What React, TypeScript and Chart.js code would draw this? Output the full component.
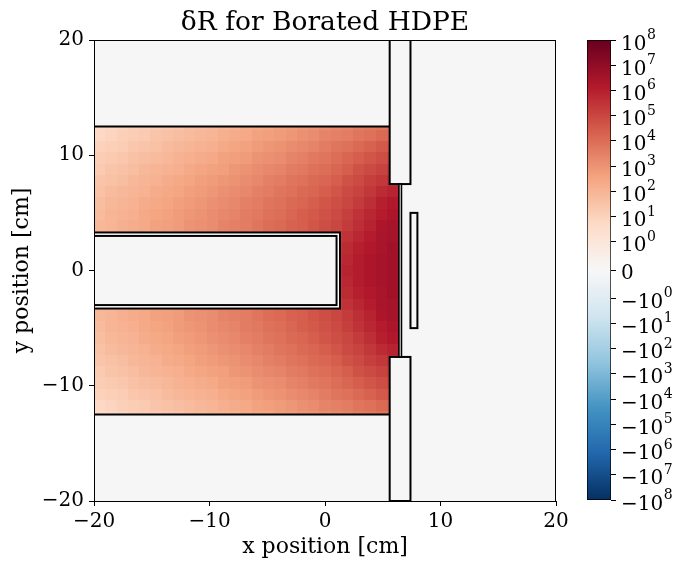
import React, { useEffect, useRef } from "react";
import { Chart, registerables } from "chart.js";

Chart.register(...registerables);

// ---------------- data ----------------
const N = null;
// mesh: 41 x 41 bins from -20 to 20 cm
const MESH_MIN = -20;
const MESH_MAX = 20;
const MESH_BINS = 41;
const FIRST_ROW = 7; // mesh row index of ROW_J07 (y ≈ -12.7 cm)
// values are log10(δR), columns i = 0..27 (x ≈ -19.5 ... 6.8 cm)
const ROW_J07 = [0.7, 0.8, 0.9, 1.1, 1.2, 1.3, 1.4, 1.5, 1.7, 1.8, 1.9, 2.0, 2.1, 2.3, 2.4, 2.5, 2.7, 2.8, 2.9, 3.0, 3.2, 3.3, 3.4, 3.6, 3.7, 3.8, 3.9, 4.0];
const ROW_J08 = [0.8, 0.9, 1.1, 1.2, 1.3, 1.5, 1.6, 1.7, 1.8, 1.9, 2.0, 2.2, 2.3, 2.4, 2.6, 2.7, 2.8, 2.9, 3.1, 3.2, 3.4, 3.5, 3.6, 3.8, 3.9, 4.1, 4.2, 4.3];
const ROW_J09 = [1.0, 1.1, 1.2, 1.4, 1.5, 1.6, 1.8, 1.9, 2.0, 2.1, 2.2, 2.4, 2.5, 2.6, 2.8, 2.9, 3.0, 3.2, 3.3, 3.4, 3.6, 3.8, 3.9, 4.1, 4.3, 4.5, 4.6, 4.6];
const ROW_J10 = [1.2, 1.3, 1.4, 1.6, 1.7, 1.8, 1.9, 2.1, 2.2, 2.3, 2.4, 2.6, 2.7, 2.8, 3.0, 3.1, 3.2, 3.4, 3.5, 3.7, 3.8, 4.0, 4.2, 4.4, 4.6, 4.8, 5.0, 5.0];
const ROW_J11 = [1.3, 1.5, 1.6, 1.7, 1.9, 2.0, 2.1, 2.2, 2.4, 2.5, 2.6, 2.7, 2.9, 3.0, 3.2, 3.3, 3.4, 3.6, 3.7, 3.9, 4.0, 4.2, 4.4, 4.7, 4.9, 5.1, 5.3, 5.4];
const ROW_J12 = [1.5, 1.6, 1.7, 1.9, 2.0, 2.1, 2.3, 2.4, 2.5, 2.7, 2.8, 2.9, 3.0, 3.2, 3.3, 3.5, 3.6, 3.8, 3.9, 4.1, 4.2, 4.4, 4.7, 4.9, 5.2, 5.4, 5.6, 5.7];
const ROW_J13 = [1.6, 1.8, 1.9, 2.0, 2.1, 2.3, 2.4, 2.5, 2.7, 2.8, 2.9, 3.1, 3.2, 3.3, 3.5, 3.6, 3.8, 3.9, 4.1, 4.2, 4.4, 4.6, 4.9, 5.1, 5.4, 5.7, 5.9, 6.0];
const ROW_J14 = [1.7, 1.9, 2.0, 2.1, 2.3, 2.4, 2.5, 2.7, 2.8, 2.9, 3.1, 3.2, 3.3, 3.5, 3.6, 3.8, 3.9, 4.1, 4.2, 4.4, 4.6, 4.8, 5.0, 5.3, 5.6, 6.0, 6.2, 6.2];
const ROW_J15 = [1.8, 2.0, 2.1, 2.2, 2.4, 2.5, 2.6, 2.8, 2.9, 3.0, 3.2, 3.3, 3.4, 3.6, 3.7, 3.9, 4.0, 4.2, 4.4, 4.5, 4.7, 4.9, 5.2, 5.5, 5.8, 6.1, 6.3, 6.4];
const ROW_J16 = [1.9, 2.0, 2.2, 2.3, 2.4, 2.6, 2.7, 2.8, 3.0, 3.1, 3.2, 3.4, 3.5, 3.6, 3.8, 4.0, 4.1, 4.3, 4.4, 4.6, 4.8, 5.0, 5.3, 5.6, 5.9, 6.3, 6.5, 6.6];
const ROW_J17 = [1.9, 2.1, 2.2, 2.3, 2.5, 2.6, 2.7, 2.9, 3.0, 3.1, 3.3, 3.4, 3.5, 3.7, 3.8, 4.0, 4.2, 4.3, 4.5, 4.7, 4.9, 5.2, 5.5, 5.8, 6.1, 6.4, 6.5, 6.6];
const ROW_J18 = [N, N, N, N, N, N, N, N, N, N, N, N, N, N, N, N, N, N, N, N, N, 5.4, 5.7, 6.0, 6.2, 6.4, 6.6, 6.6];
const ROW_J19 = [N, N, N, N, N, N, N, N, N, N, N, N, N, N, N, N, N, N, N, N, N, 5.5, 5.8, 6.1, 6.3, 6.5, 6.6, 6.6];
const ROW_J20 = [N, N, N, N, N, N, N, N, N, N, N, N, N, N, N, N, N, N, N, N, N, 5.6, 5.9, 6.1, 6.3, 6.5, 6.6, 6.7];
const ROW_J21 = [N, N, N, N, N, N, N, N, N, N, N, N, N, N, N, N, N, N, N, N, N, 5.5, 5.8, 6.1, 6.3, 6.5, 6.6, 6.6];
const ROW_J22 = [N, N, N, N, N, N, N, N, N, N, N, N, N, N, N, N, N, N, N, N, N, 5.4, 5.7, 6.0, 6.2, 6.4, 6.6, 6.6];
const ROW_J23 = [1.9, 2.1, 2.2, 2.3, 2.5, 2.6, 2.7, 2.9, 3.0, 3.1, 3.3, 3.4, 3.5, 3.7, 3.8, 4.0, 4.2, 4.3, 4.5, 4.7, 4.9, 5.2, 5.5, 5.8, 6.1, 6.4, 6.5, 6.6];
const ROW_J24 = [1.9, 2.0, 2.2, 2.3, 2.4, 2.6, 2.7, 2.8, 3.0, 3.1, 3.2, 3.4, 3.5, 3.6, 3.8, 4.0, 4.1, 4.3, 4.4, 4.6, 4.8, 5.0, 5.3, 5.6, 5.9, 6.3, 6.5, 6.6];
const ROW_J25 = [1.8, 2.0, 2.1, 2.2, 2.4, 2.5, 2.6, 2.8, 2.9, 3.0, 3.2, 3.3, 3.4, 3.6, 3.7, 3.9, 4.0, 4.2, 4.4, 4.5, 4.7, 4.9, 5.2, 5.5, 5.8, 6.1, 6.3, 6.4];
const ROW_J26 = [1.7, 1.9, 2.0, 2.1, 2.3, 2.4, 2.5, 2.7, 2.8, 2.9, 3.1, 3.2, 3.3, 3.5, 3.6, 3.8, 3.9, 4.1, 4.2, 4.4, 4.6, 4.8, 5.0, 5.3, 5.6, 6.0, 6.2, 6.2];
const ROW_J27 = [1.6, 1.8, 1.9, 2.0, 2.1, 2.3, 2.4, 2.5, 2.7, 2.8, 2.9, 3.1, 3.2, 3.3, 3.5, 3.6, 3.8, 3.9, 4.1, 4.2, 4.4, 4.6, 4.9, 5.1, 5.4, 5.7, 5.9, 6.0];
const ROW_J28 = [1.5, 1.6, 1.7, 1.9, 2.0, 2.1, 2.3, 2.4, 2.5, 2.7, 2.8, 2.9, 3.0, 3.2, 3.3, 3.5, 3.6, 3.8, 3.9, 4.1, 4.2, 4.4, 4.7, 4.9, 5.2, 5.4, 5.6, 5.7];
const ROW_J29 = [1.3, 1.5, 1.6, 1.7, 1.9, 2.0, 2.1, 2.2, 2.4, 2.5, 2.6, 2.7, 2.9, 3.0, 3.2, 3.3, 3.4, 3.6, 3.7, 3.9, 4.0, 4.2, 4.4, 4.7, 4.9, 5.1, 5.3, 5.4];
const ROW_J30 = [1.2, 1.3, 1.4, 1.6, 1.7, 1.8, 1.9, 2.1, 2.2, 2.3, 2.4, 2.6, 2.7, 2.8, 3.0, 3.1, 3.2, 3.4, 3.5, 3.7, 3.8, 4.0, 4.2, 4.4, 4.6, 4.8, 5.0, 5.0];
const ROW_J31 = [1.0, 1.1, 1.2, 1.4, 1.5, 1.6, 1.8, 1.9, 2.0, 2.1, 2.2, 2.4, 2.5, 2.6, 2.8, 2.9, 3.0, 3.2, 3.3, 3.4, 3.6, 3.8, 3.9, 4.1, 4.3, 4.5, 4.6, 4.6];
const ROW_J32 = [0.8, 0.9, 1.1, 1.2, 1.3, 1.5, 1.6, 1.7, 1.8, 1.9, 2.0, 2.2, 2.3, 2.4, 2.6, 2.7, 2.8, 2.9, 3.1, 3.2, 3.4, 3.5, 3.6, 3.8, 3.9, 4.1, 4.2, 4.3];
const ROW_J33 = [0.7, 0.8, 0.9, 1.1, 1.2, 1.3, 1.4, 1.5, 1.7, 1.8, 1.9, 2.0, 2.1, 2.3, 2.4, 2.5, 2.7, 2.8, 2.9, 3.0, 3.2, 3.3, 3.4, 3.6, 3.7, 3.8, 3.9, 4.0];

const ROWS: (number | null)[][] = [
  ROW_J07, ROW_J08, ROW_J09, ROW_J10, ROW_J11, ROW_J12, ROW_J13, ROW_J14, ROW_J15,
  ROW_J16, ROW_J17, ROW_J18, ROW_J19, ROW_J20, ROW_J21, ROW_J22, ROW_J23, ROW_J24,
  ROW_J25, ROW_J26, ROW_J27, ROW_J28, ROW_J29, ROW_J30, ROW_J31, ROW_J32, ROW_J33,
];

// geometry (cm)
const MODERATOR: [number, number][] = [
  [-20, 12.5], [5.6, 12.5], [5.6, 7.5], [6.4, 7.5], [6.4, -7.5], [5.6, -7.5], [5.6, -12.5], [-20, -12.5],
];
const VOID_OUTER = [-20, 1.3, -3.3, 3.3];
const VOID_INNER = [-20, 1.0, -3.0, 3.0];
const SLAB_TOP = [5.6, 7.4, 7.5, 20];
const SLAB_BOTTOM = [5.6, 7.4, -20, -7.5];
const THIN_SHEET = [6.4, 6.62, -7.5, 7.5];
const SMALL_BOX = [7.4, 8.0, -5, 5];
const MOD_TOP_LINE = [-20, 5.6, 12.5];
const MOD_BOTTOM_LINE = [-20, 5.6, -12.5];

const X_TICKS = [-20, -10, 0, 10, 20];
const Y_TICKS = [-20, -10, 0, 10, 20];
const CB_EXPONENTS = [0, 1, 2, 3, 4, 5, 6, 7, 8];
const LINTHRESH = 1;
const LINSCALE = 1;
const VMAX = 1e8;

const TITLE = "δR for Borated HDPE";
const X_LABEL = "x position [cm]";
const Y_LABEL = "y position [cm]";

// RdBu_r
const CMAP = ["#053061", "#2166ac", "#4393c3", "#92c5de", "#d1e5f0", "#f7f7f7", "#fddbc7", "#f4a582", "#d6604d", "#b2182b", "#67001f"];
const BG = "#f6f6f6";
const FONT = "'DejaVu Serif', serif";

// ---------------- helpers ----------------
const LIN_ADJ = LINSCALE / (1 - 1 / 10);
function symlogU(v: number) {
  const a = Math.abs(v);
  const u = a <= LINTHRESH ? (a * LIN_ADJ) / LINTHRESH : LIN_ADJ + Math.log10(a / LINTHRESH);
  return Math.sign(v) * u;
}
const U_MAX = symlogU(VMAX);

function hexToRgb(h: string) {
  return [parseInt(h.slice(1, 3), 16), parseInt(h.slice(3, 5), 16), parseInt(h.slice(5, 7), 16)];
}
const CMAP_RGB = CMAP.map(hexToRgb);
function cmap(t: number) {
  const tt = Math.max(0, Math.min(1, t)) * (CMAP.length - 1);
  const k = Math.min(CMAP.length - 2, Math.floor(tt));
  const f = tt - k;
  const a = CMAP_RGB[k], b = CMAP_RGB[k + 1];
  return `rgb(${Math.round(a[0] + (b[0] - a[0]) * f)},${Math.round(a[1] + (b[1] - a[1]) * f)},${Math.round(a[2] + (b[2] - a[2]) * f)})`;
}
function colorForLog(e: number) {
  const u = symlogU(Math.pow(10, e));
  return cmap((u + U_MAX) / (2 * U_MAX));
}
const fmtNum = (v: number) => (v < 0 ? "\u2212" + Math.abs(v) : String(v));

// ---------------- plugins ----------------
const heatmapPlugin = {
  id: "heatmap",
  beforeDatasetsDraw(chart: any) {
    const { ctx, chartArea: ca, scales } = chart;
    const xs = scales.x, ys = scales.y;
    const px = (v: number) => xs.getPixelForValue(v);
    const py = (v: number) => ys.getPixelForValue(v);
    ctx.save();
    ctx.fillStyle = BG;
    ctx.fillRect(ca.left, ca.top, ca.width, ca.height);
    ctx.beginPath();
    ctx.rect(ca.left, ca.top, ca.width, ca.height);
    ctx.clip();
    // clip to moderator minus void
    ctx.beginPath();
    MODERATOR.forEach(([gx, gy], k) => (k ? ctx.lineTo(px(gx), py(gy)) : ctx.moveTo(px(gx), py(gy))));
    ctx.closePath();
    const [vx0, vx1, vy0, vy1] = VOID_OUTER;
    ctx.moveTo(px(vx0 - 1), py(vy0));
    ctx.lineTo(px(vx1), py(vy0));
    ctx.lineTo(px(vx1), py(vy1));
    ctx.lineTo(px(vx0 - 1), py(vy1));
    ctx.closePath();
    ctx.clip("evenodd");
    const d = (MESH_MAX - MESH_MIN) / MESH_BINS;
    ROWS.forEach((row, r) => {
      const y0 = MESH_MIN + (FIRST_ROW + r) * d;
      const y1 = y0 + d;
      const top = Math.round(py(y1));
      const bot = Math.round(py(y0));
      row.forEach((v, i) => {
        if (v === null || v === undefined) return;
        const x0 = MESH_MIN + i * d;
        const l = Math.round(px(x0));
        const rr = Math.round(px(x0 + d));
        ctx.fillStyle = colorForLog(v);
        ctx.fillRect(l, top, rr - l, bot - top);
      });
    });
    ctx.restore();
  },
  afterDatasetsDraw(chart: any) {
    const { ctx, chartArea: ca, scales } = chart;
    const xs = scales.x, ys = scales.y;
    const px = (v: number) => xs.getPixelForValue(v);
    const py = (v: number) => ys.getPixelForValue(v);
    ctx.save();
    ctx.beginPath();
    ctx.rect(ca.left, ca.top, ca.width, ca.height);
    ctx.clip();
    ctx.strokeStyle = "#000";
    ctx.lineWidth = 2;
    const rect = (g: number[], fill?: string) => {
      const l = px(g[0]), r = px(g[1]), t = py(g[3]), b = py(g[2]);
      if (fill) {
        ctx.fillStyle = fill;
        ctx.fillRect(l, t, r - l, b - t);
      }
      ctx.strokeRect(l, t, r - l, b - t);
    };
    const hline = (g: number[]) => {
      ctx.beginPath();
      ctx.moveTo(px(g[0]), py(g[2]));
      ctx.lineTo(px(g[1]), py(g[2]));
      ctx.stroke();
    };
    hline(MOD_TOP_LINE);
    hline(MOD_BOTTOM_LINE);
    rect(VOID_OUTER, "#ffffff");
    rect(VOID_INNER, BG);
    rect(SLAB_TOP);
    rect(SLAB_BOTTOM);
    ctx.lineWidth = 1.6;
    rect(THIN_SHEET, "#ffffff");
    ctx.lineWidth = 2;
    rect(SMALL_BOX);
    ctx.restore();
  },
  afterDraw(chart: any) {
    const { ctx, chartArea: ca } = chart;
    ctx.save();
    ctx.strokeStyle = "#000";
    ctx.lineWidth = 1;
    ctx.strokeRect(Math.round(ca.left) + 0.5, Math.round(ca.top) + 0.5, Math.round(ca.width) - 1, Math.round(ca.height));
    ctx.fillStyle = "#000";
    ctx.textAlign = "center";
    ctx.textBaseline = "alphabetic";
    ctx.font = `26.5px ${FONT}`;
    ctx.fillText(TITLE, (ca.left + ca.right) / 2, 30);
    ctx.font = `22px ${FONT}`;
    ctx.fillText(X_LABEL, (ca.left + ca.right) / 2, 553);
    ctx.translate(28, (ca.top + ca.bottom) / 2);
    ctx.rotate(-Math.PI / 2);
    ctx.fillText(Y_LABEL, 0, 0);
    ctx.restore();
  },
};

const cbLabelPlugin = {
  id: "cbLabels",
  afterDraw(chart: any) {
    const { ctx, chartArea: ca, scales } = chart;
    const s = scales.y;
    ctx.save();
    ctx.fillStyle = "#000";
    ctx.textAlign = "left";
    const x = ca.right + 5 + 5;
    (s.ticks || []).forEach((t: any) => {
      const val = t.value;
      const yp = s.getPixelForValue(val);
      if (Math.abs(val) < 1e-9) {
        ctx.font = `20px ${FONT}`;
        ctx.textBaseline = "alphabetic";
        ctx.fillText("0", x, yp + 8.5);
        return;
      }
      const n = Math.round(Math.abs(val) - LIN_ADJ);
      const base = (val < 0 ? "\u2212" : "") + "10";
      ctx.font = `20px ${FONT}`;
      ctx.textBaseline = "alphabetic";
      ctx.fillText(base, x, yp + 9.5);
      const w = ctx.measureText(base).width;
      ctx.font = `14px ${FONT}`;
      ctx.fillText(String(n), x + w + 0.5, yp - 1);
    });
    ctx.restore();
  },
};

// ---------------- component ----------------
export default function App() {
  const mainRef = useRef<HTMLCanvasElement>(null);
  const cbRef = useRef<HTMLCanvasElement>(null);

  useEffect(() => {
    const tickFont = { family: FONT, size: 20 };
    const main = new Chart(mainRef.current as HTMLCanvasElement, {
      type: "scatter",
      data: { datasets: [{ data: [], pointRadius: 0 }] },
      options: {
        responsive: false,
        animation: false,
        devicePixelRatio: 1,
        layout: { padding: { top: 40, right: 132, left: 0, bottom: 0 } },
        plugins: { legend: { display: false }, tooltip: { enabled: false }, title: { display: false } },
        scales: {
          x: {
            type: "linear",
            min: MESH_MIN,
            max: MESH_MAX,
            afterBuildTicks: (s: any) => {
              s.ticks = X_TICKS.map((v) => ({ value: v }));
            },
            afterFit: (s: any) => {
              s.height = 69;
            },
            ticks: { font: tickFont, color: "#000", padding: 4, maxRotation: 0, autoSkip: false, callback: (v: any) => fmtNum(Number(v)) },
            grid: { drawOnChartArea: false, drawTicks: true, tickLength: 5, color: "#000" },
            border: { display: false },
          },
          y: {
            type: "linear",
            min: MESH_MIN,
            max: MESH_MAX,
            afterBuildTicks: (s: any) => {
              s.ticks = Y_TICKS.map((v) => ({ value: v }));
            },
            afterFit: (s: any) => {
              s.width = 94;
            },
            ticks: { font: tickFont, color: "#000", padding: 5, autoSkip: false, callback: (v: any) => fmtNum(Number(v)) },
            grid: { drawOnChartArea: false, drawTicks: true, tickLength: 5, color: "#000" },
            border: { display: false },
          },
        },
      },
      plugins: [heatmapPlugin],
    } as any);

    const cbTicks: number[] = [];
    CB_EXPONENTS.forEach((n) => cbTicks.push(LIN_ADJ + n, -(LIN_ADJ + n)));
    cbTicks.push(0);
    cbTicks.sort((a, b) => a - b);

    const cb = new Chart(cbRef.current as HTMLCanvasElement, {
      type: "bar",
      data: {
        labels: ["cb"],
        datasets: [
          {
            data: [[-U_MAX, U_MAX]],
            backgroundColor: (c: any) => {
              const ca = c.chart.chartArea;
              if (!ca) return BG;
              const g = c.chart.ctx.createLinearGradient(0, ca.bottom, 0, ca.top);
              CMAP.forEach((col, k) => g.addColorStop(k / (CMAP.length - 1), col));
              return g;
            },
            borderColor: "#000",
            borderWidth: 1,
            borderSkipped: false,
            barPercentage: 1,
            categoryPercentage: 1,
          },
        ],
      },
      options: {
        responsive: false,
        animation: false,
        devicePixelRatio: 1,
        layout: { padding: { top: 40, left: 27, bottom: 70, right: 0 } },
        plugins: { legend: { display: false }, tooltip: { enabled: false } },
        scales: {
          x: { display: false },
          y: {
            position: "right",
            min: -U_MAX,
            max: U_MAX,
            afterBuildTicks: (s: any) => {
              s.ticks = cbTicks.map((v) => ({ value: v }));
            },
            afterFit: (s: any) => {
              s.width = 77;
            },
            ticks: { font: tickFont, color: "#000", padding: 5, autoSkip: false, callback: () => "" },
            grid: { drawOnChartArea: false, drawTicks: true, tickLength: 5, color: "#000" },
            border: { display: false },
          },
        },
      },
      plugins: [cbLabelPlugin],
    } as any);

    return () => {
      main.destroy();
      cb.destroy();
    };
  }, []);

  return (
    <div style={{ position: "fixed", left: 0, top: 0, width: 688, height: 570, background: "#fff" }}>
      <canvas ref={mainRef} width={688} height={570} style={{ position: "absolute", left: 0, top: 0, width: 688, height: 570 }} />
      <canvas ref={cbRef} width={128} height={570} style={{ position: "absolute", left: 560, top: 0, width: 128, height: 570 }} />
    </div>
  );
}
